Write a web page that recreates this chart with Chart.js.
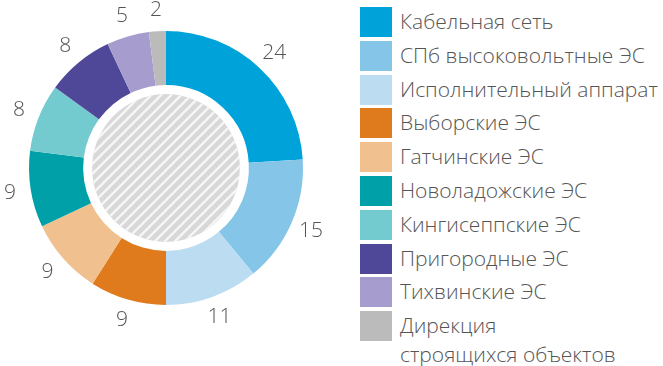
<!DOCTYPE html>
<html>
<head>
<meta charset="utf-8">
<script src="https://cdn.jsdelivr.net/npm/chart.js@4"></script>
<style>
  html, body { margin: 0; padding: 0; background: #fff; }
  #wrap { position: relative; width: 663px; height: 366px; overflow: hidden; }
  #box { position: absolute; left: 0; top: 0; width: 332px; height: 336px; }
  #legend { position: absolute; left: 360px; top: 7px; margin: 0; padding: 0; list-style: none;
    font-family: "Open Sans", sans-serif; font-weight: 300; font-size: 21px; color: #555; }
  #legend li { display: flex; align-items: flex-start; height: 33.8px; }
  #legend .sw { width: 32px; height: 30px; flex: none; }
  #legend .tx { margin-left: 8px; line-height: 29px; white-space: nowrap; }
  #legend .tx span { display: block; line-height: 29px; }
</style>
</head>
<body>
<div id="wrap">
  <div id="box"><canvas id="donut"></canvas></div>
  <ul id="legend"></ul>
</div>
<script>
// data
const categories = ['Кабельная сеть', 'СПб высоковольтные ЭС', 'Исполнительный аппарат', 'Выборские ЭС',
  'Гатчинские ЭС', 'Новоладожские ЭС', 'Кингисеппские ЭС', 'Пригородные ЭС', 'Тихвинские ЭС',
  'Дирекция\nстроящихся объектов'];
const values = [24, 15, 11, 9, 9, 9, 8, 8, 5, 2];
const colors = ['#00a3d9', '#85c6e8', '#bcdcf1', '#e07b1d', '#f0c08f', '#00a0a8', '#73cbd0',
  '#4f4797', '#a69dce', '#bbbbbb'];

// legend (html, last label wraps to two lines)
const legend = document.getElementById('legend');
categories.forEach((c, i) => {
  const li = document.createElement('li');
  const lines = c.split('\n').map(s => `<span>${s}</span>`).join('');
  li.innerHTML = `<div class="sw" style="background:${colors[i]}"></div><div class="tx">${lines}</div>`;
  legend.appendChild(li);
});

// hatched disc in the middle
const centerDisc = {
  id: 'centerDisc',
  afterDatasetsDraw(chart) {
    const arc = chart.getDatasetMeta(0).data[0];
    if (!arc) return;
    const { x, y } = arc;
    const r = arc.innerRadius - 9;
    const c = chart.ctx;
    c.save();
    c.beginPath();
    c.arc(x, y, r, 0, Math.PI * 2);
    c.clip();
    c.fillStyle = '#d8d8d8';
    c.fillRect(x - r, y - r, 2 * r, 2 * r);
    c.strokeStyle = '#f6f6f6';
    c.lineWidth = 2.4;
    for (let k = -2 * r; k <= 2 * r; k += 10) {
      c.beginPath();
      c.moveTo(x - r + k, y + r);
      c.lineTo(x + r + k, y - r);
      c.stroke();
    }
    c.restore();
  }
};

// value labels outside the ring
const outerLabels = {
  id: 'outerLabels',
  afterDatasetsDraw(chart) {
    const meta = chart.getDatasetMeta(0);
    const c = chart.ctx;
    c.save();
    c.font = '300 21px "Open Sans", sans-serif';
    c.fillStyle = '#555';
    c.textAlign = 'center';
    c.textBaseline = 'middle';
    meta.data.forEach((arc, i) => {
      const a = (arc.startAngle + arc.endAngle) / 2;
      const r = arc.outerRadius + 21;
      c.fillText(String(values[i]), arc.x + Math.cos(a) * r, arc.y + Math.sin(a) * r);
    });
    c.restore();
  }
};

new Chart(document.getElementById('donut'), {
  type: 'doughnut',
  data: {
    labels: categories,
    datasets: [{ data: values, backgroundColor: colors, borderWidth: 0 }]
  },
  options: {
    responsive: true,
    maintainAspectRatio: false,
    animation: false,
    cutout: '60.5%',
    layout: { padding: { top: 30, bottom: 30, left: 29, right: 29 } },
    plugins: { legend: { display: false }, tooltip: { enabled: false } }
  },
  plugins: [centerDisc, outerLabels]
});
</script>
</body>
</html>
